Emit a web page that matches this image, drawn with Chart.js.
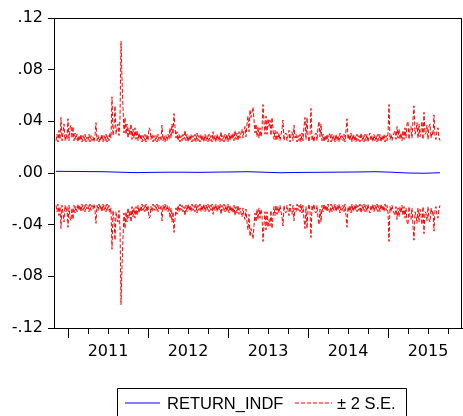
<!DOCTYPE html>
<html>
<head>
<meta charset="utf-8">
<script src="https://cdn.jsdelivr.net/npm/chart.js@4.4.1/dist/chart.umd.min.js"></script>
<style>
html,body{margin:0;padding:0;background:#fff;}
#c{display:block;}
</style>
</head>
<body>
<canvas id="c" width="463" height="416"></canvas>
<script>
// ---- DATA ----
const startYear = 2010.85;   // first observation
const endYear = 2015.65;     // last observation
const yearLabels = ['2011','2012','2013','2014','2015'];
const yTickValues = [-0.12,-0.08,-0.04,0,0.04,0.08,0.12];
// two standard-error band half width (upper band = +, lower band = -)
const twoSE = [
.025,.030,.024,.033,.026,.043,.025,.031,.038,.025,
.030,.026,.042,.025,.035,.037,.027,.036,.025,.031,
.026,.030,.024,.029,.025,.030,.024,.029,.025,.030,
.024,.028,.025,.030,.024,.029,.025,.028,.024,.029,
.039,.025,.029,.024,.028,.025,.030,.024,.029,.025,
.030,.024,.029,.025,.031,.027,.059,.029,.036,.052,
.030,.034,.038,.029,.042,.102,.073,.050,.031,.043,
.030,.038,.027,.035,.029,.038,.026,.034,.027,.035,
.026,.033,.025,.031,.026,.030,.024,.029,.025,.030,
.024,.030,.025,.035,.034,.026,.030,.024,.029,.025,
.029,.024,.030,.025,.028,.025,.037,.025,.029,.024,
.029,.025,.030,.026,.035,.027,.038,.030,.046,.036,
.027,.032,.025,.030,.024,.029,.025,.030,.026,.033,
.025,.030,.024,.029,.025,.030,.024,.029,.025,.030,
.024,.031,.025,.029,.024,.030,.025,.029,.024,.030,
.025,.029,.024,.030,.025,.029,.024,.032,.025,.029,
.024,.030,.025,.029,.024,.032,.025,.029,.024,.030,
.025,.030,.024,.031,.025,.030,.026,.031,.025,.033,
.026,.031,.025,.032,.027,.031,.034,.027,.033,.036,
.028,.038,.044,.032,.049,.043,.047,.051,.041,.031,
.038,.028,.036,.027,.035,.028,.033,.053,.040,.030,
.044,.030,.042,.036,.041,.029,.043,.034,.026,.033,
.025,.032,.026,.031,.025,.030,.034,.041,.025,.030,
.031,.025,.029,.033,.024,.030,.032,.025,.037,.027,
.030,.024,.029,.025,.030,.024,.031,.025,.036,.043,
.026,.043,.029,.024,.030,.050,.025,.029,.024,.030,
.031,.025,.035,.040,.028,.038,.025,.030,.024,.029,
.025,.030,.024,.029,.031,.024,.030,.025,.029,.024,
.030,.025,.029,.024,.031,.026,.029,.025,.030,.024,
.033,.042,.026,.030,.025,.031,.024,.030,.025,.029,
.024,.030,.025,.029,.024,.031,.025,.029,.024,.030,
.025,.030,.024,.029,.031,.025,.029,.024,.030,.025,
.029,.024,.030,.025,.030,.024,.029,.025,.030,.024,
.029,.025,.031,.053,.026,.030,.025,.029,.031,.033,
.026,.036,.027,.034,.026,.031,.025,.033,.026,.035,
.027,.038,.040,.026,.034,.036,.027,.041,.052,.030,
.033,.039,.027,.038,.028,.033,.040,.026,.047,.030,
.031,.037,.026,.036,.038,.027,.032,.029,.045,.028,
.026,.033,.035,.028,.025
];
// forecast of RETURN_INDF (evenly spaced over the same span)
const forecast = [
.0013,.0012,.0011,.0010,.0006,.0003,.0005,.0006,.0006,.0005,
.0007,.0008,.0010,.0006,.0002,.0004,.0005,.0006,.0007,.0008,
.0010,.0006,.0000,-.0002,.0002
];

// ---- build library tables ----
const n = twoSE.length;
const dates = twoSE.map((_, i) => startYear + i * (endYear - startYear) / (n - 1));
const fDates = forecast.map((_, i) => startYear + i * (endYear - startYear) / (forecast.length - 1));
const upper = twoSE.map((v, i) => ({x: dates[i], y: v}));
const lower = twoSE.map((v, i) => ({x: dates[i], y: -v}));
const fc = forecast.map((v, i) => ({x: fDates[i], y: v}));

const BLUE = '#0000ff', RED = '#ff0000';
const DASH = [4, 2];

const framePlugin = {
  id: 'frame',
  afterDraw(chart) {
    const ctx = chart.ctx, a = chart.chartArea, xs = chart.scales.x;
    ctx.save();
    ctx.strokeStyle = '#000';
    ctx.lineWidth = 1;
    ctx.setLineDash([]);
    ctx.beginPath();
    ctx.moveTo(a.left, Math.round(a.top) + 0.5);
    ctx.lineTo(a.right, Math.round(a.top) + 0.5);
    ctx.moveTo(Math.round(a.right) - 0.5, a.top);
    ctx.lineTo(Math.round(a.right) - 0.5, a.bottom);
    // quarter / year tick marks
    yearLabels.forEach(yl => {
      [0, 0.25, 0.5, 0.75].forEach(q => {
        const px = Math.round(xs.getPixelForValue(+yl + q)) + 0.5;
        const len = q === 0 ? 10 : 6;
        ctx.moveTo(px, a.bottom);
        ctx.lineTo(px, a.bottom + len);
      });
    });
    ctx.stroke();

    // legend
    const lx = 117, ly = 388, lw = 289;
    ctx.beginPath();
    ctx.rect(lx + 0.5, ly + 0.5, lw, 40);
    ctx.stroke();
    const ds = chart.data.datasets;
    const yMid = 403;
    ctx.font = '16.5px "Liberation Sans", Arial, sans-serif';
    ctx.textBaseline = 'alphabetic';
    ctx.fillStyle = '#000';
    // entry 1
    ctx.strokeStyle = BLUE;
    ctx.beginPath(); ctx.moveTo(125, yMid); ctx.lineTo(160, yMid); ctx.stroke();
    ctx.fillText(ds[0].label, 167, 409);
    // entry 2
    ctx.strokeStyle = RED;
    ctx.setLineDash(DASH);
    ctx.beginPath(); ctx.moveTo(295, yMid); ctx.lineTo(332, yMid); ctx.stroke();
    ctx.setLineDash([]);
    ctx.fillText(ds[1].label, 337, 409);
    ctx.restore();
  }
};

new Chart(document.getElementById('c'), {
  type: 'line',
  data: {
    datasets: [
      {label: 'RETURN_INDF', data: fc, borderColor: BLUE, borderWidth: 1, pointRadius: 0, tension: 0, order: 0},
      {label: '\u00b1 2 S.E.', data: upper, borderColor: RED, borderWidth: 1, borderDash: DASH, pointRadius: 0, tension: 0, order: 1},
      {label: 'lower', data: lower, borderColor: RED, borderWidth: 1, borderDash: DASH, pointRadius: 0, tension: 0, order: 1}
    ]
  },
  options: {
    responsive: false,
    animation: false,
    devicePixelRatio: 1,
    layout: {padding: {top: 18, right: 1, left: 0, bottom: 58}},
    plugins: {legend: {display: false}, tooltip: {enabled: false}},
    scales: {
      x: {
        type: 'linear',
        min: 2010.825,
        max: 2015.925,
        afterBuildTicks: s => { s.ticks = yearLabels.map(y => ({value: +y + 0.5})); },
        afterFit: s => { s.height = 30; },
        grid: {display: false, drawTicks: false},
        border: {display: true, color: '#000', width: 1},
        ticks: {
          autoSkip: false, maxRotation: 0, padding: 14,
          color: '#000',
          font: {family: '"DejaVu Sans", sans-serif', size: 16},
          callback: v => String(Math.floor(v))
        }
      },
      y: {
        min: -0.12,
        max: 0.12,
        afterBuildTicks: s => { s.ticks = yTickValues.map(v => ({value: v})); },
        afterFit: s => { s.width = 54; },
        grid: {display: true, drawOnChartArea: false, drawTicks: true, tickLength: 6, color: '#000'},
        border: {display: true, color: '#000', width: 1},
        ticks: {
          padding: 5,
          color: '#000',
          font: {family: '"DejaVu Sans", sans-serif', size: 16},
          callback: v => (v < 0 ? '-' : '') + Math.abs(v).toFixed(2).replace(/^0/, '')
        }
      }
    }
  },
  plugins: [framePlugin]
});
</script>
</body>
</html>
